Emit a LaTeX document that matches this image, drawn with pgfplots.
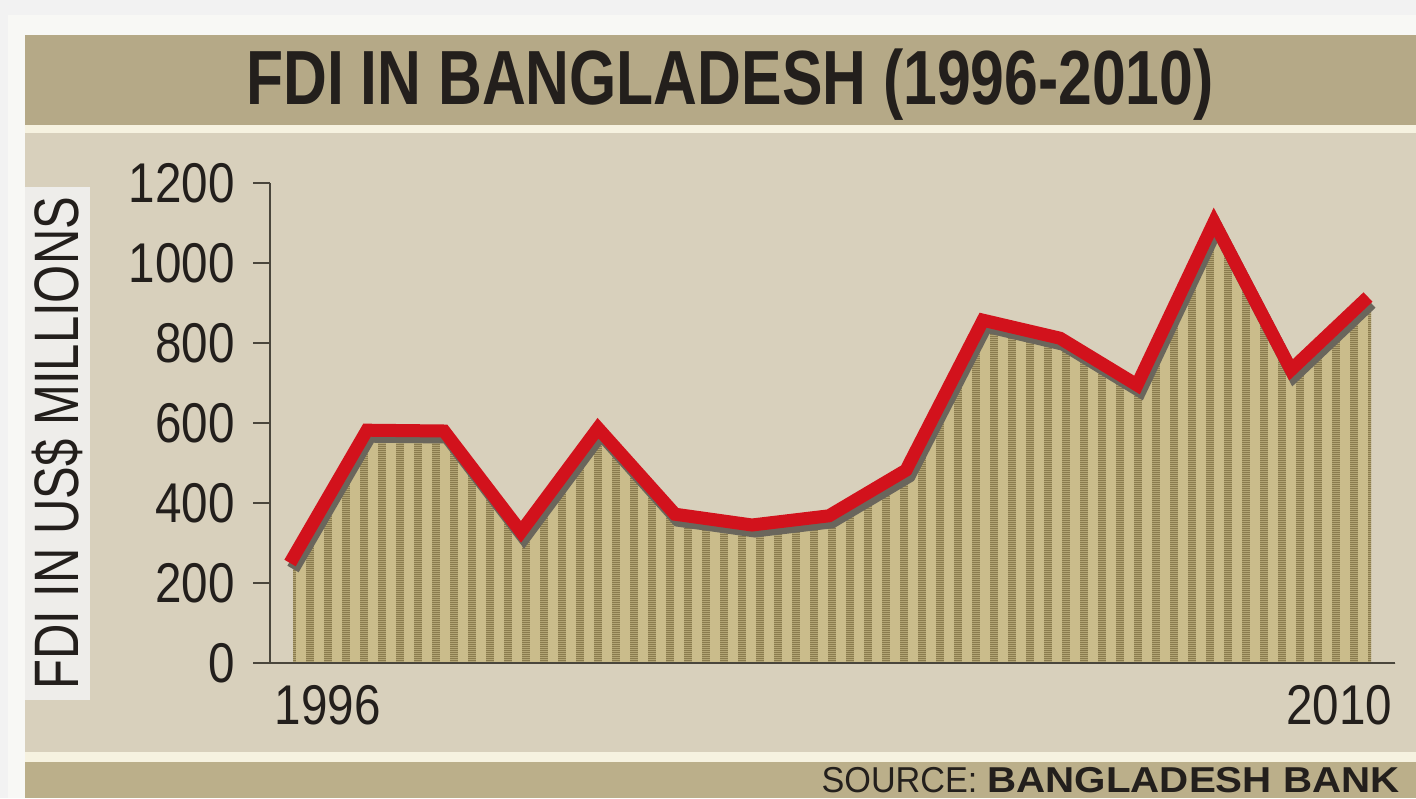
\documentclass[border=0pt]{standalone}
\usepackage{pgfplots}
\pgfplotsset{compat=1.18}
\usepackage{fontspec}
\usepackage{graphicx}
\usetikzlibrary{patterns}
\setmainfont{Liberation Sans}
\newfontfamily\condfont{Liberation Sans}[FakeStretch=0.85]
\newfontfamily\titlefont{Liberation Sans}[FakeStretch=0.79]
\newfontfamily\labfont{Liberation Sans}[FakeStretch=0.78]
\newfontfamily\srcfont{Liberation Sans}[FakeStretch=0.95]
\newfontfamily\srcbold{Liberation Sans Bold}[FakeStretch=1.12]

\definecolor{outerbg}{HTML}{F2F2F2}
\definecolor{frame}{HTML}{F8F8F5}
\definecolor{khaki}{HTML}{B5A987}
\definecolor{khakib}{HTML}{BBAF8A}
\definecolor{cream}{HTML}{F6F2E0}
\definecolor{panel}{HTML}{D8D0BC}
\definecolor{labbg}{HTML}{EEEDEA}
\definecolor{stripeD}{HTML}{8A7B4E}
\definecolor{stripeL}{HTML}{CABC8B}
\definecolor{redline}{HTML}{D2121C}
\definecolor{shadow}{HTML}{6A665C}
\definecolor{axiscol}{HTML}{4A463C}
\definecolor{textcol}{HTML}{231F1C}

\pgfdeclarepatternformonly{mystripes}{\pgfpointorigin}{\pgfpoint{9pt}{1pt}}{\pgfpoint{9pt}{1pt}}{%
  \pgfpathrectangle{\pgfpointorigin}{\pgfpoint{4.2pt}{1pt}}\pgfusepath{fill}}

\pgfplotstableread{
year fdi
1996 250
1997 582
1998 580
1999 328
2000 587
2001 372
2002 345
2003 368
2004 482
2005 857
2006 812
2007 695
2008 1102
2009 733
2010 915
}\fdidata

\begin{document}
\begin{tikzpicture}
\path[use as bounding box, clip] (0,0) rectangle (708pt,399pt);
\begin{scope}[x=0.5pt, y=-0.5pt, yshift=399pt]
  \fill[outerbg] (0,0) rectangle (1416,798);
  \fill[frame] (8,15) rectangle (1416,798);
  \fill[khaki] (25,35) rectangle (1416,125);
  \fill[cream] (25,125) rectangle (1416,133);
  \fill[panel] (25,133) rectangle (1416,752);
  \fill[cream] (25,752) rectangle (1416,762);
  \fill[khakib] (25,762) rectangle (1416,798);
  \node[anchor=base, inner sep=0pt, text=textcol] at (730,105)
    {\fontsize{38.4pt}{40pt}\selectfont\titlefont\bfseries FDI IN BANGLADESH (1996-2010)};
  \node[anchor=base east, inner sep=0pt, text=textcol] at (1400,792)
    {\fontsize{18pt}{19pt}\selectfont{\srcfont SOURCE:} {\srcbold BANGLADESH BANK}};
\end{scope}
\begin{axis}[
  at={(135pt,67.5pt)}, anchor=south west,
  scale only axis, width=562.5pt, height=240pt,
  xmin=1995.7403, xmax=2010.3506,
  ymin=0, ymax=1200,
  axis x line*=bottom, axis y line*=left,
  axis line style={axiscol, line width=1.1pt},
  ytick={0,200,...,1200},
  xtick={1995.805,2010.312},
  xticklabels={\makebox[0pt][l]{1996},\makebox[0pt][r]{2010}},
  x tick style={draw=none},
  y tick style={axiscol, line width=1.1pt},
  tick align=outside, major tick length=8.5pt,
  /pgf/number format/assume math mode=true,
  ticklabel style={font=\fontsize{28pt}{30pt}\selectfont\condfont, text=textcol},
  yticklabel style={inner sep=0pt, xshift=-9pt},
  xticklabel style={anchor=north, inner sep=0pt, yshift=-2.5pt},
  /pgf/number format/1000 sep={},
  ylabel={\fontsize{31.4pt}{32pt}\selectfont\labfont FDI IN US\$ MILLIONS},
  ylabel style={at={(rel axis cs:-0.18933,0.458)}, anchor=center,
    fill=labbg, inner sep=0pt, minimum width=256.5pt, minimum height=32.5pt, text=textcol},
  axis on top,
  clip=true,
]
\addplot[draw=none, fill=stripeL, postaction={pattern=mystripes, pattern color=stripeD},
  xshift=1.5pt, yshift=-3pt] table[x=year,y=fdi] {\fdidata} \closedcycle;
\addplot[shadow, line width=6.5pt, line join=miter, xshift=1.5pt, yshift=-3pt] table[x=year,y=fdi] {\fdidata};
\addplot[redline, line width=6.5pt, line join=miter] table[x=year,y=fdi] {\fdidata};
\draw[axiscol, line width=1.1pt] (rel axis cs:1,0) -- ([yshift=-9pt]rel axis cs:1,0);
\end{axis}
\end{tikzpicture}
\end{document}
